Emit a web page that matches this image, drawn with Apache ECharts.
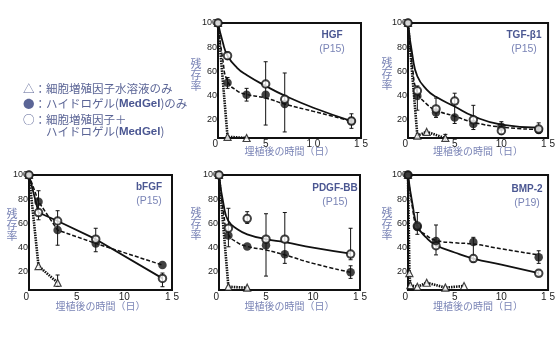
<!DOCTYPE html>
<html lang="ja">
<head>
<meta charset="utf-8">
<script src="https://cdn.jsdelivr.net/npm/echarts@6/dist/echarts.min.js"></script>
<style>
  html, body { margin: 0; padding: 0; background: #fff; }
  #chart { width: 558px; height: 353px; }
</style>
</head>
<body>
<div id="chart"></div>
<script>
// 残存率 (%) vs 埋植後の時間 (日)
// ○ = 細胞増殖因子+ハイドロゲル, ● = ハイドロゲルのみ, △ = 水溶液のみ
var xTicks = [0, 5, 10, 15];
var yTicks = [20, 40, 60, 80, 100];

// HGF
var hgfOpen = [[0, 100], [1, 73], [5, 49.6], [7, 37], [14, 19]];
var hgfGel = [[0, 100], [1, 50.7], [3, 40.8], [5, 40.8], [7, 33], [14, 19]];
var hgfSol = [[0, 100], [1, 6], [3, 5]];
var hgfOpenCurve = [[0, 100], [0.5, 84], [1, 73], [2, 63], [3, 57], [5, 48], [7, 40], [10, 30], [14, 19]];
var hgfGelCurve = [[0, 100], [0.5, 70], [1, 52], [2, 44], [3, 41], [5, 38], [7, 33], [10, 27], [14, 19]];
var hgfErr = [[1, 70, 76], [1, 46, 55], [3, 35.5, 46], [5, 15.7, 68], [7, 10, 58.7], [14, 13, 25]];

// TGF-β1
var tgfOpen = [[0, 100], [1, 44], [3, 29], [5, 35.5], [7, 20], [10, 11], [14, 12.4]];
var tgfGel = [[0, 100], [1, 39.7], [3, 26], [5, 22], [7, 16.5], [10, 14.3], [14, 11.6]];
var tgfSol = [[0, 100], [1, 7], [2, 10], [4, 5]];
var tgfOpenCurve = [[0, 100], [0.5, 72], [1, 56], [2, 45], [3, 39], [5, 31], [7, 23], [10, 16], [14, 13.5]];
var tgfGelCurve = [[0, 100], [0.5, 62], [1, 43], [2, 33], [3, 28], [5, 23], [7, 18], [10, 14], [14, 12]];
var tgfErr = [[1, 28, 48], [3, 22, 38], [5, 17, 42], [7, 12, 32], [10, 8, 18.5], [14, 9, 17.5], [4, 3, 8]];

// bFGF
var bfgfOpen = [[0, 100], [1, 69], [3, 62], [7, 47], [14, 14.6]];
var bfgfGel = [[0, 100], [1, 78], [3, 54.5], [7, 43.5], [14, 25.6]];
var bfgfSol = [[0, 100], [1, 24.8], [3, 11]];
var bfgfErr = [[1, 63, 87], [3, 42, 70.5], [7, 36.6, 56], [14, 7.7, 19], [3, 8, 17.4]];

// PDGF-BB
var pdgfOpen = [[0, 100], [1, 56], [3, 64], [5, 47], [7, 47], [14, 34.7]];
var pdgfGel = [[0, 100], [1, 50], [3, 41], [5, 42], [7, 34.5], [14, 19.6]];
var pdgfSol = [[0, 100], [1, 7.7], [3, 6.9]];
var pdgfOpenCurve = [[0, 100], [0.5, 75], [1, 62], [2, 55], [3, 51], [5, 47], [7, 44.5], [10, 40], [14, 35]];
var pdgfGelCurve = [[0, 100], [0.5, 68], [1, 51], [2, 44], [3, 41], [5, 38], [7, 34], [10, 27], [14, 19.6]];
var pdgfErr = [[1, 40.7, 72.5], [3, 60, 69.7], [5, 16.5, 68], [7, 27, 69], [14, 30, 56], [14, 14.6, 25]];

// BMP-2
var bmpOpen = [[0, 100], [1, 57.8], [3, 41.6], [7, 31], [14, 18.8]];
var bmpGel = [[0, 100], [1, 57], [3, 45.5], [7, 44.6], [14, 32]];
var bmpSol = [[0, 100], [0.15, 19], [0.25, 9], [1, 7.7], [2, 11], [4, 7], [6, 8.3]];
var bmpOpenCurve = [[0, 100], [0.5, 75], [1, 58], [2, 48], [3, 42], [5, 36], [7, 31], [10, 26], [14, 19]];
var bmpGelCurve = [[0, 100], [0.5, 72], [1, 57], [2, 50], [3, 46], [5, 44], [7, 43], [10, 39], [14, 34]];
var bmpErr = [[1, 51, 69], [3, 34, 58.7], [7, 28, 48.5], [14, 27, 37.4], [14, 17, 21]];

var JP = '"Noto Sans CJK JP", sans-serif';
var NUM = '"Liberation Sans Narrow", "Liberation Sans", sans-serif';
var BLUE = '#4b5792';
var LIGHT = '#7a84b6';

var panels = [
  { name: 'HGF', sub: '(P15)', box: [218, 23, 143, 115], t: [332, 35], ten: '1 0', ng: 8, lm: 1,
    open: hgfOpen, gel: hgfGel, sol: hgfSol, openCurve: hgfOpenCurve, gelCurve: hgfGelCurve, err: hgfErr, smooth: true, gelTop: false, yn: [196, 75] },
  { name: 'TGF-β1', sub: '(P15)', box: [408, 23, 141, 115], t: [524, 35], ten: '10', ng: 8, lm: 1,
    open: tgfOpen, gel: tgfGel, sol: tgfSol, openCurve: tgfOpenCurve, gelCurve: tgfGelCurve, err: tgfErr, smooth: true, gelTop: false, yn: [387, 74] },
  { name: 'bFGF', sub: '(P15)', box: [29, 175, 143, 115], t: [149, 187], ten: '10', ng: 11, lm: 2,
    open: bfgfOpen, gel: bfgfGel, sol: bfgfSol, openCurve: bfgfOpen, gelCurve: bfgfGel, err: bfgfErr, smooth: false, gelTop: false, yn: [12, 225] },
  { name: 'PDGF-BB', sub: '(P15)', box: [219, 175, 141, 115], t: [335, 188], ten: '10', ng: 11, lm: 2,
    open: pdgfOpen, gel: pdgfGel, sol: pdgfSol, openCurve: pdgfOpenCurve, gelCurve: pdgfGelCurve, err: pdgfErr, smooth: true, gelTop: false, yn: [196, 224] },
  { name: 'BMP-2', sub: '(P19)', box: [408, 175, 142, 115], t: [527, 189], ten: '10', ng: 11, lm: 2,
    open: bmpOpen, gel: bmpGel, sol: bmpSol, openCurve: bmpOpenCurve, gelCurve: bmpGelCurve, err: bmpErr, smooth: true, gelTop: true, yn: [387, 224] }
];

function errRender(params, api) {
  var x = api.value(0);
  var a = api.coord([x, api.value(1)]);
  var b = api.coord([x, api.value(2)]);
  var st = { stroke: '#111', lineWidth: 1 };
  return { type: 'group', children: [
    { type: 'line', shape: { x1: a[0], y1: a[1], x2: b[0], y2: b[1] }, style: st },
    { type: 'line', shape: { x1: a[0] - 2, y1: a[1], x2: a[0] + 2, y2: a[1] }, style: st },
    { type: 'line', shape: { x1: b[0] - 2, y1: b[1], x2: b[0] + 2, y2: b[1] }, style: st }
  ] };
}

var grids = [], xAxes = [], yAxes = [], series = [], graphics = [];

panels.forEach(function (p, i) {
  grids.push({ left: p.box[0], top: p.box[1], width: p.box[2], height: p.box[3],
    show: true, borderColor: '#111', borderWidth: 2, backgroundColor: 'transparent' });
  xAxes.push({ gridIndex: i, type: 'value', min: 0, max: 15,
    name: '埋植後の時間（日）', nameLocation: 'middle', nameGap: p.ng, nameMoveOverlap: false,
    nameTextStyle: { color: LIGHT, fontSize: 10, fontFamily: JP, verticalAlign: 'top' },
    axisLine: { lineStyle: { color: '#111', width: 2 } },
    axisTick: { show: false }, splitLine: { show: false },
    axisLabel: { customValues: xTicks, color: '#222', fontSize: 10, fontFamily: NUM, margin: p.lm,
      alignMinLabel: 'right',
      formatter: function (v) { return v === 10 ? p.ten : v === 15 ? '1 5' : String(v); } }
  });
  yAxes.push({ gridIndex: i, type: 'value', min: 5, max: 100,
    axisLine: { lineStyle: { color: '#111', width: 2 } },
    axisTick: { show: false }, splitLine: { show: false },
    axisLabel: { customValues: yTicks, color: '#222', fontSize: 9, fontFamily: NUM, margin: 1 }
  });

  var lineBase = { type: 'line', xAxisIndex: i, yAxisIndex: i, showSymbol: false, silent: true };
  series.push(Object.assign({}, lineBase, { data: p.sol, smooth: false, z: 2,
    lineStyle: { color: '#111', width: 2.6, type: [1.5, 1] } }));
  series.push(Object.assign({}, lineBase, { data: p.gelCurve, smooth: p.smooth, z: 2,
    lineStyle: { color: '#111', width: 1.5, type: [4, 2] } }));
  series.push(Object.assign({}, lineBase, { data: p.openCurve, smooth: p.smooth, z: 2,
    lineStyle: { color: '#111', width: 1.8 } }));
  series.push({ type: 'custom', xAxisIndex: i, yAxisIndex: i, data: p.err, z: 3,
    renderItem: errRender, encode: { x: 0, y: [1, 2] }, silent: true });
  series.push({ type: 'scatter', xAxisIndex: i, yAxisIndex: i, data: p.sol, z: 4,
    symbol: 'triangle', symbolSize: 7,
    itemStyle: { color: '#fff', borderColor: '#111', borderWidth: 1.2 } });
  series.push({ type: 'scatter', xAxisIndex: i, yAxisIndex: i, data: p.gel, z: p.gelTop ? 6 : 5,
    symbol: 'circle', symbolSize: 8.5, itemStyle: { color: '#111' } });
  series.push({ type: 'scatter', xAxisIndex: i, yAxisIndex: i, data: p.open, z: p.gelTop ? 5 : 6,
    symbol: 'circle', symbolSize: 7.5,
    itemStyle: { color: '#fff', borderColor: '#111', borderWidth: 2 } });

  graphics.push({ type: 'text', x: p.t[0], y: p.t[1], z: 10,
    style: { text: p.name, fill: BLUE, font: 'bold 10px ' + NUM, align: 'center', verticalAlign: 'middle' } });
  graphics.push({ type: 'text', x: p.t[0], y: p.t[1] + 14, z: 10,
    style: { text: p.sub, fill: LIGHT, font: '10.5px ' + NUM, align: 'center', verticalAlign: 'middle' } });
  graphics.push({ type: 'text', x: p.yn[0], y: p.yn[1], z: 10,
    style: { text: '残\n存\n率', fill: LIGHT, font: '11px ' + JP, lineHeight: 11,
      align: 'center', verticalAlign: 'middle' } });
});

var legendStyle = { fill: '#5b6596', font: '11.5px ' + JP, verticalAlign: 'middle',
  rich: { b: { fontWeight: 'bold', fontFamily: '"Liberation Sans", sans-serif', fontSize: 11.5, fill: '#4b5792' } } };
[
  ['△：細胞増殖因子水溶液のみ', 23, 89],
  ['●：ハイドロゲル({b|MedGel})のみ', 23, 104],
  ['○：細胞増殖因子＋', 23, 120],
  ['ハイドロゲル({b|MedGel})', 46, 132]
].forEach(function (l) {
  graphics.push({ type: 'text', x: l[1], y: l[2], style: Object.assign({ text: l[0] }, legendStyle) });
});

var chart = echarts.init(document.getElementById('chart'));
chart.setOption({
  animation: false,
  grid: grids,
  xAxis: xAxes,
  yAxis: yAxes,
  series: series,
  graphic: graphics
});
</script>
</body>
</html>
